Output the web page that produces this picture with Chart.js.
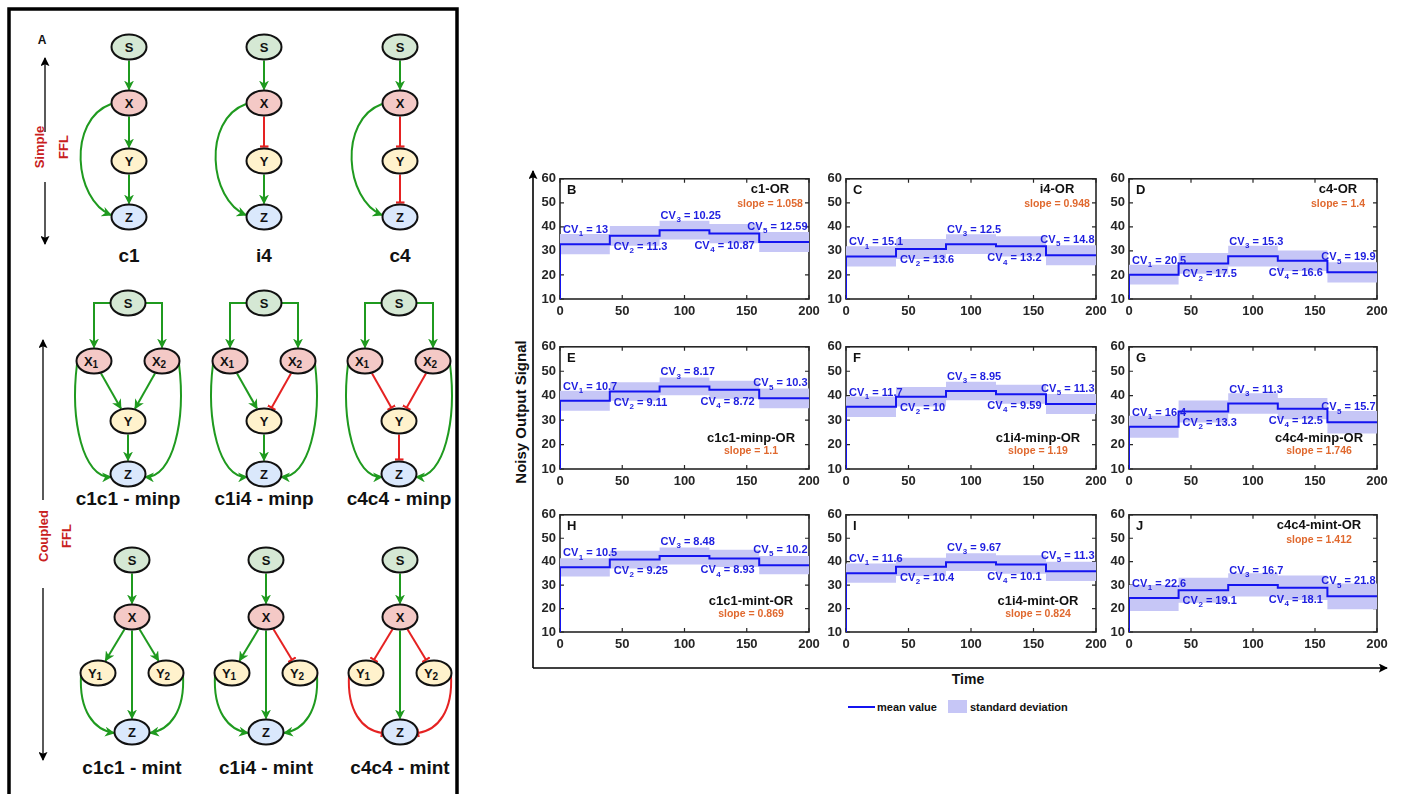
<!DOCTYPE html>
<html>
<head>
<meta charset="utf-8">
<script src="https://cdn.jsdelivr.net/npm/chart.js@4.4.1/dist/chart.umd.min.js"></script>
<style>
  body { margin: 0; background: #fff; width: 1402px; height: 794px; overflow: hidden; position: relative; font-family: "Liberation Sans", Arial, sans-serif; }
  #art { position: absolute; left: 0; top: 0; }
  canvas.panel { position: absolute; }
</style>
</head>
<body>
<svg id="art" width="1402" height="794">
  <defs>
    <marker id="arrG" viewBox="0 0 10 10" refX="9" refY="5" markerWidth="10" markerHeight="10" markerUnits="userSpaceOnUse" orient="auto">
      <path d="M0,0 L10,5 L0,10 L3,5 z" fill="#1f9a1f"/>
    </marker>
    <marker id="barR" viewBox="0 0 4 10" refX="2" refY="5" markerWidth="4" markerHeight="9" markerUnits="userSpaceOnUse" orient="auto">
      <path d="M2,0 L2,10" stroke="#e52222" stroke-width="2.4"/>
    </marker>
    <marker id="arrK" viewBox="0 0 10 10" refX="9" refY="5" markerWidth="9" markerHeight="9" markerUnits="userSpaceOnUse" orient="auto">
      <path d="M0,0 L10,5 L0,10 L2,5 z" fill="#000"/>
    </marker>
  </defs>
</svg>
<script>
// values
const timeEdges = [0, 40, 80, 120, 160, 200];
const xTicks = [0, 50, 100, 150, 200];
const yTicks = [10, 20, 30, 40, 50, 60];
const startLevel = 0;

const meanB = [32.8, 36.3, 38.6, 37.2, 33.7];
const sdB = [4.2, 4.1, 3.9, 4.0, 4.2];
const cvB = [13, 11.3, 10.25, 10.87, 12.59];

const meanC = [27.7, 30.8, 32.8, 31.9, 28.2];
const sdC = [4.2, 4.2, 4.1, 4.2, 4.2];
const cvC = [15.1, 13.6, 12.5, 13.2, 14.8];

const meanD = [20.1, 24.8, 27.8, 25.9, 21.1];
const sdD = [4.1, 4.3, 4.3, 4.3, 4.2];
const cvD = [20.5, 17.5, 15.3, 16.6, 19.9];

const meanE = [37.9, 41.7, 43.8, 42.4, 38.9];
const sdE = [4.1, 3.8, 3.6, 3.7, 4.0];
const cvE = [10.7, 9.11, 8.17, 8.72, 10.3];

const meanF = [35.5, 39.6, 41.9, 40.6, 36.6];
const sdF = [4.2, 4.0, 3.8, 3.9, 4.1];
const cvF = [11.7, 10, 8.95, 9.59, 11.3];

const meanG = [27.3, 33.5, 36.8, 34.7, 29.1];
const sdG = [4.5, 4.5, 4.2, 4.3, 4.6];
const cvG = [16.4, 13.3, 11.3, 12.5, 15.7];

const meanH = [37.6, 40.9, 42.4, 41.4, 38.5];
const sdH = [3.9, 3.8, 3.6, 3.7, 3.9];
const cvH = [10.5, 9.25, 8.48, 8.93, 10.2];

const meanI = [35.1, 37.8, 39.8, 38.8, 35.9];
const sdI = [4.1, 3.9, 3.8, 3.9, 4.1];
const cvI = [11.6, 10.4, 9.67, 10.1, 11.3];

const meanJ = [24.5, 27.8, 30.1, 28.9, 25.2];
const sdJ = [5.5, 5.3, 5.0, 5.2, 5.5];
const cvJ = [22.6, 19.1, 16.7, 18.1, 21.8];

const panelLetters = ["B", "C", "D", "E", "F", "G", "H", "I", "J"];
const motifNames = ["c1-OR", "i4-OR", "c4-OR", "c1c1-minp-OR", "c1i4-minp-OR", "c4c4-minp-OR",
  "c1c1-mint-OR", "c1i4-mint-OR", "c4c4-mint-OR"];
const slopeValues = [1.058, 0.948, 1.4, 1.1, 1.19, 1.746, 0.869, 0.824, 1.412];
const panelMeans = [meanB, meanC, meanD, meanE, meanF, meanG, meanH, meanI, meanJ];
const panelSds = [sdB, sdC, sdD, sdE, sdF, sdG, sdH, sdI, sdJ];
const panelCvs = [cvB, cvC, cvD, cvE, cvF, cvG, cvH, cvI, cvJ];
const nameAtTop = [true, true, true, false, false, false, false, false, true];

// layout of the 3x3 grid (plot areas in page pixels)
const plotLefts = [560, 846, 1129];
const plotWidths = [249, 250, 248];
const plotTops = [175, 343, 511];
const plotHeights = [124, 126, 121];
const yAxisW = 34, xAxisH = 24, padTop = 8, padRight = 16;

const FONT = '"Liberation Sans", Arial, Helvetica, sans-serif';
const lineBlue = "#1414f0";
const bandColor = "#c6c6f6";
const axisColor = "#262626";
const slopeColor = "#e0692f";

function stepPoints(levels, first) {
  const pts = [];
  if (first !== undefined) pts.push({ x: timeEdges[0], y: first });
  levels.forEach((v, i) => pts.push({ x: timeEdges[i], y: v }));
  pts.push({ x: timeEdges[timeEdges.length - 1], y: levels[levels.length - 1] });
  return pts;
}

function drawCV(ctx, idx, value, x, y, align) {
  const main = "bold 11px " + FONT, sub = "bold 8px " + FONT;
  const rest = " = " + value;
  ctx.font = main; const w1 = ctx.measureText("CV").width; const w3 = ctx.measureText(rest).width;
  ctx.font = sub; const w2 = ctx.measureText(String(idx)).width;
  const x0 = align === "right" ? x - (w1 + w2 + w3) : x;
  ctx.textAlign = "left"; ctx.textBaseline = "middle";
  ctx.font = main; ctx.fillText("CV", x0, y);
  ctx.font = sub; ctx.fillText(String(idx), x0 + w1 + 0.5, y + 4);
  ctx.font = main; ctx.fillText(rest, x0 + w1 + w2 + 0.5, y);
}

function makeDecor(k) {
  return {
    id: "decor" + k,
    beforeDatasetsDraw(chart) {
      const { ctx, chartArea: a, scales } = chart;
      ctx.save();
      ctx.strokeStyle = axisColor;
      ctx.lineWidth = 1.6;
      ctx.strokeRect(a.left, a.top, a.right - a.left, a.bottom - a.top);
      ctx.lineWidth = 1.2;
      ctx.beginPath();
      xTicks.forEach(v => {
        const px = scales.x.getPixelForValue(v);
        ctx.moveTo(px, a.bottom); ctx.lineTo(px, a.bottom - 4);
        ctx.moveTo(px, a.top); ctx.lineTo(px, a.top + 4);
      });
      yTicks.forEach(v => {
        const py = scales.y.getPixelForValue(v);
        ctx.moveTo(a.left, py); ctx.lineTo(a.left + 4, py);
        ctx.moveTo(a.right, py); ctx.lineTo(a.right - 4, py);
      });
      ctx.stroke();
      ctx.restore();
    },
    afterDatasetsDraw(chart) {
      const { ctx, chartArea: a, scales } = chart;
      const xs = v => scales.x.getPixelForValue(v);
      const ys = v => scales.y.getPixelForValue(v);
      const m = panelMeans[k], cv = panelCvs[k];
      ctx.save();
      ctx.fillStyle = "#111";
      ctx.font = "bold 13px " + FONT;
      ctx.textAlign = "left"; ctx.textBaseline = "middle";
      ctx.fillText(panelLetters[k], a.left + 7, a.top + 12);

      const cx = k < 3 ? a.right - 39 : a.right - 58;
      const ny = nameAtTop[k] ? a.top + 11 : a.bottom - 31;
      const sy = nameAtTop[k] ? a.top + 25 : a.bottom - 18;
      ctx.textAlign = "center";
      ctx.font = "bold 13px " + FONT;
      ctx.fillText(motifNames[k], cx, ny);
      ctx.fillStyle = slopeColor;
      ctx.font = "bold 10.5px " + FONT;
      ctx.fillText("slope = " + slopeValues[k], cx, sy);

      ctx.fillStyle = "#1e1ee0";
      drawCV(ctx, 1, cv[0], xs(timeEdges[0]) + 3, ys(m[0]) - 14, "left");
      drawCV(ctx, 2, cv[1], xs(timeEdges[1]) + 4, ys(m[1]) + 11, "left");
      drawCV(ctx, 3, cv[2], xs(timeEdges[2]) + 1, ys(m[2]) - 14, "left");
      drawCV(ctx, 4, cv[3], xs(timeEdges[4]) - 5, ys(m[3]) + 12, "right");
      drawCV(ctx, 5, cv[4], xs(timeEdges[5]) - 2, ys(m[4]) - 15, "right");
      ctx.restore();
    }
  };
}

const tickFont = { family: FONT, size: 13, weight: "bold" };

panelMeans.forEach((m, k) => {
  const col = k % 3, row = Math.floor(k / 3);
  const canvas = document.createElement("canvas");
  canvas.className = "panel";
  canvas.width = yAxisW + plotWidths[col] + padRight;
  canvas.height = padTop + plotHeights[row] + xAxisH;
  canvas.style.left = (plotLefts[col] - yAxisW) + "px";
  canvas.style.top = (plotTops[row] - padTop) + "px";
  document.body.appendChild(canvas);

  const sd = panelSds[k];
  const upper = m.map((v, i) => v + sd[i]);
  const lower = m.map((v, i) => v - sd[i]);

  new Chart(canvas, {
    type: "line",
    data: {
      datasets: [
        { label: "mean value", data: stepPoints(m, startLevel), borderColor: lineBlue, borderWidth: 2,
          pointRadius: 0, stepped: true, fill: false, order: 0 },
        { label: "upper", data: stepPoints(upper), borderColor: "rgba(0,0,0,0)", borderWidth: 0,
          pointRadius: 0, stepped: true, fill: false, order: 1 },
        { label: "standard deviation", data: stepPoints(lower), borderColor: "rgba(0,0,0,0)", borderWidth: 0,
          pointRadius: 0, stepped: true, fill: "-1", backgroundColor: bandColor, order: 1 },
      ],
    },
    options: {
      responsive: false,
      animation: false,
      events: [],
      layout: { padding: { top: padTop, right: padRight, left: 0, bottom: 0 }, autoPadding: false },
      plugins: { legend: { display: false }, tooltip: { enabled: false } },
      scales: {
        x: {
          type: "linear", min: 0, max: 200,
          afterBuildTicks: s => { s.ticks = xTicks.map(v => ({ value: v })); },
          afterFit: s => { s.height = xAxisH; },
          grid: { display: false, drawTicks: false },
          border: { display: false },
          ticks: { font: tickFont, color: axisColor, padding: 5, maxRotation: 0, autoSkip: false },
        },
        y: {
          type: "linear", min: 10, max: 60,
          afterBuildTicks: s => { s.ticks = yTicks.map(v => ({ value: v })); },
          afterFit: s => { s.width = yAxisW; },
          grid: { display: false, drawTicks: false },
          border: { display: false },
          ticks: { font: tickFont, color: axisColor, padding: 4, autoSkip: false },
        },
      },
    },
    plugins: [makeDecor(k)],
  });
});

// ---------- static artwork: axes arrows, labels, legend, network motifs ----------
const NS = "http://www.w3.org/2000/svg";
const art = document.getElementById("art");
function add(tag, attrs, text) {
  const e = document.createElementNS(NS, tag);
  for (const key in attrs) e.setAttribute(key, attrs[key]);
  if (text !== undefined) e.textContent = text;
  art.appendChild(e);
  return e;
}
function label(x, y, str, size, color, extra) {
  return add("text", Object.assign({ x, y, "font-family": FONT, "font-size": size, "font-weight": "bold",
    fill: color, "text-anchor": "middle", "dominant-baseline": "central" }, extra || {}), str);
}

// right side: shared axes
add("line", { x1: 533, y1: 668, x2: 533, y2: 171, stroke: "#000", "stroke-width": 1.6, "marker-end": "url(#arrK)" });
add("line", { x1: 533, y1: 668, x2: 1387, y2: 668, stroke: "#000", "stroke-width": 1.6, "marker-end": "url(#arrK)" });
label(0, 0, "Noisy Output Signal", 15, "#111", { transform: "translate(520,412) rotate(-90)" });
label(968, 679, "Time", 14, "#111");
add("line", { x1: 848, y1: 707, x2: 875, y2: 707, stroke: lineBlue, "stroke-width": 2 });
label(877, 707, "mean value", 11, "#111", { "text-anchor": "start" });
add("rect", { x: 948, y: 700, width: 19, height: 13, fill: bandColor });
label(970, 707, "standard deviation", 11, "#111", { "text-anchor": "start" });

// left side: frame and motif diagrams
add("rect", { x: 9, y: 9, width: 448, height: 800, fill: "none", stroke: "#000", "stroke-width": 3.5 });
label(42, 40, "A", 12, "#111");

const GREEN = "#1f9a1f", RED = "#e52222";
const RX = 17.5, RY = 12.5;
const nodeFill = { S: "#d5e8d4", X: "#f4c9c6", Y: "#fff2cc", Z: "#dae8fc" };

function rim(n, tx, ty, pad) {
  const dx = tx - n.x, dy = ty - n.y;
  const t = 1 / Math.sqrt((dx / (RX + pad)) ** 2 + (dy / (RY + pad)) ** 2);
  return [n.x + dx * t, n.y + dy * t];
}
function edgeStyle(sign) {
  return sign > 0
    ? { stroke: GREEN, "stroke-width": 2, fill: "none", "marker-end": "url(#arrG)" }
    : { stroke: RED, "stroke-width": 2, fill: "none", "marker-end": "url(#barR)" };
}
function straight(a, b, sign) {
  const p = rim(a, b.x, b.y, 1), q = rim(b, a.x, a.y, sign > 0 ? 1 : 2);
  add("path", Object.assign({ d: `M${p[0]},${p[1]} L${q[0]},${q[1]}` }, edgeStyle(sign)));
}
function curve(d, sign) { add("path", Object.assign({ d }, edgeStyle(sign))); }
function node(n, letter, subscript) {
  add("ellipse", { cx: n.x, cy: n.y, rx: RX, ry: RY, fill: nodeFill[letter], stroke: "#111", "stroke-width": 2 });
  const t = add("text", { x: n.x - (subscript ? 3 : 0), y: n.y + 4.5, "font-family": FONT, "font-size": 13,
    "font-weight": "bold", fill: "#111", "text-anchor": "middle" });
  const a = document.createElementNS(NS, "tspan"); a.textContent = letter; t.appendChild(a);
  if (subscript) {
    const s = document.createElementNS(NS, "tspan");
    s.setAttribute("font-size", 10); s.setAttribute("dy", 2.5); s.textContent = subscript; t.appendChild(s);
  }
}

// row 1: simple FFL
const simpleCols = [129, 264, 400];
const simpleNames = ["c1", "i4", "c4"];
const simpleXY = [1, -1, -1], simpleYZ = [1, 1, -1];
simpleCols.forEach((cx, i) => {
  const S = { x: cx, y: 47 }, X = { x: cx, y: 103 }, Y = { x: cx, y: 161 }, Z = { x: cx, y: 217 };
  straight(S, X, 1); straight(X, Y, simpleXY[i]); straight(Y, Z, simpleYZ[i]);
  curve(`M${cx - 18},${X.y + 1} C${cx - 62},${X.y + 17} ${cx - 55},${Z.y - 17} ${cx - 18},${Z.y - 2}`, 1);
  node(S, "S"); node(X, "X"); node(Y, "Y"); node(Z, "Z");
  label(cx, 255, simpleNames[i], 19, "#111");
});

// row 2: coupled, multiple inputs
const minpCols = [128, 264, 399];
const minpNames = ["c1c1 - minp", "c1i4 - minp", "c4c4 - minp"];
const minpX1Y = [1, 1, -1], minpX2Y = [1, -1, -1], minpYZ = [1, 1, -1];
minpCols.forEach((cx, i) => {
  const S = { x: cx, y: 303 }, X1 = { x: cx - 34, y: 361 }, X2 = { x: cx + 34, y: 361 },
    Y = { x: cx, y: 421 }, Z = { x: cx, y: 474 };
  curve(`M${cx - RX},${S.y} H${X1.x} V${X1.y - RY - 1}`, 1);
  curve(`M${cx + RX},${S.y} H${X2.x} V${X2.y - RY - 1}`, 1);
  straight(X1, Y, minpX1Y[i]); straight(X2, Y, minpX2Y[i]); straight(Y, Z, minpYZ[i]);
  curve(`M${X1.x - 17},${X1.y + 3} C${X1.x - 24},${X1.y + 60} ${cx - 45},${Z.y + 4} ${cx - 17},${Z.y + 3}`, 1);
  curve(`M${X2.x + 17},${X2.y + 3} C${X2.x + 24},${X2.y + 60} ${cx + 45},${Z.y + 4} ${cx + 17},${Z.y + 3}`, 1);
  node(S, "S"); node(X1, "X", "1"); node(X2, "X", "2"); node(Y, "Y"); node(Z, "Z");
  label(cx, 498, minpNames[i], 19, "#111");
});

// row 3: coupled, multiple intermediates
const mintCols = [132, 266, 400];
const mintNames = ["c1c1 - mint", "c1i4 - mint", "c4c4 - mint"];
const mintXY1 = [1, 1, -1], mintXY2 = [1, -1, -1], mintYZ = [1, 1, -1];
mintCols.forEach((cx, i) => {
  const S = { x: cx, y: 560 }, X = { x: cx, y: 617 }, Y1 = { x: cx - 34, y: 673 }, Y2 = { x: cx + 34, y: 673 },
    Z = { x: cx, y: 732 };
  straight(S, X, 1); straight(X, Y1, mintXY1[i]); straight(X, Y2, mintXY2[i]); straight(X, Z, 1);
  curve(`M${Y1.x - 17},${Y1.y + 2} C${Y1.x - 19},${Y1.y + 38} ${cx - 38},${Z.y - 2} ${cx - 18},${Z.y + 1}`, mintYZ[i]);
  curve(`M${Y2.x + 17},${Y2.y + 2} C${Y2.x + 19},${Y2.y + 38} ${cx + 38},${Z.y - 2} ${cx + 18},${Z.y + 1}`, mintYZ[i]);
  node(S, "S"); node(X, "X"); node(Y1, "Y", "1"); node(Y2, "Y", "2"); node(Z, "Z");
  label(cx, 767, mintNames[i], 19, "#111");
});

// side arrows with group captions
add("line", { x1: 45, y1: 132, x2: 45, y2: 58, stroke: "#000", "stroke-width": 1.3, "marker-end": "url(#arrK)" });
add("line", { x1: 45, y1: 182, x2: 45, y2: 244, stroke: "#000", "stroke-width": 1.3, "marker-end": "url(#arrK)" });
label(0, 0, "Simple", 13, "#c8201e", { transform: "translate(39,147) rotate(-90)" });
label(0, 0, "FFL", 13, "#c8201e", { transform: "translate(63,147) rotate(-90)" });
add("line", { x1: 43, y1: 500, x2: 43, y2: 340, stroke: "#000", "stroke-width": 1.3, "marker-end": "url(#arrK)" });
add("line", { x1: 43, y1: 588, x2: 43, y2: 760, stroke: "#000", "stroke-width": 1.3, "marker-end": "url(#arrK)" });
label(0, 0, "Coupled", 13, "#c8201e", { transform: "translate(43,536) rotate(-90)" });
label(0, 0, "FFL", 13, "#c8201e", { transform: "translate(66,536) rotate(-90)" });
</script>
</body>
</html>
